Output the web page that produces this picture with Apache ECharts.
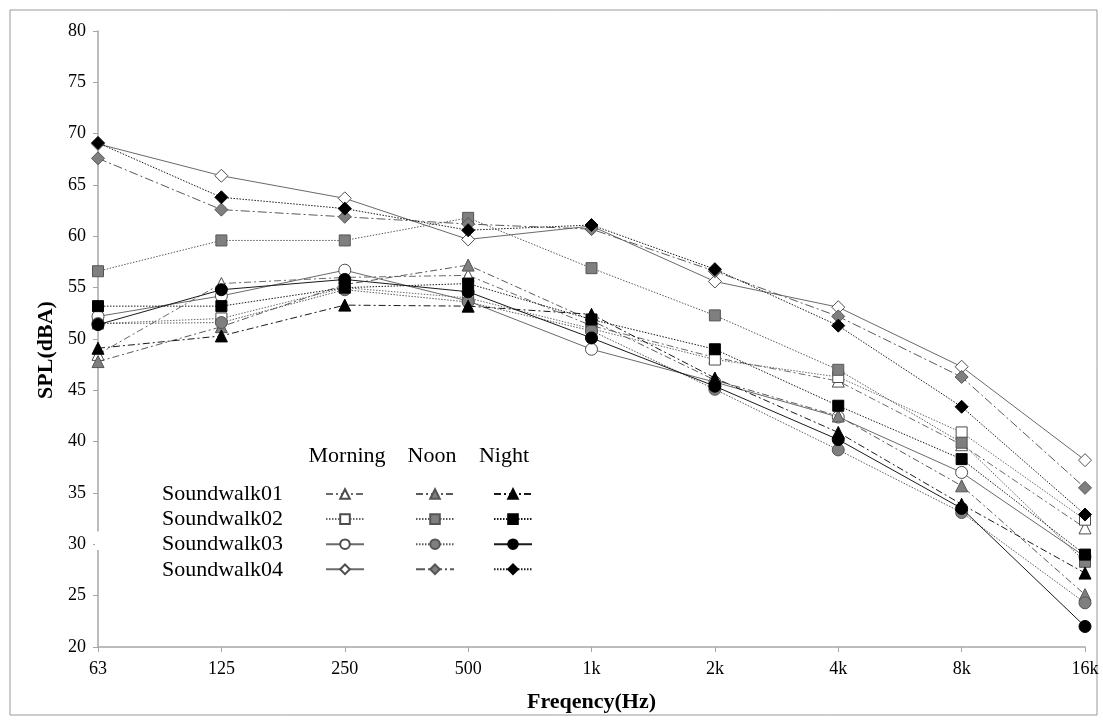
<!DOCTYPE html>
<html>
<head>
<meta charset="utf-8">
<script src="https://cdn.jsdelivr.net/npm/echarts@6/dist/echarts.min.js"></script>
<style>
html,body{margin:0;padding:0;background:#fff;}
#chart{width:1103px;height:720px;}
</style>
</head>
<body>
<div id="chart"></div>
<script>
// ---- data ----
const categories = ['63','125','250','500','1k','2k','4k','8k','16k'];
const yTicks = {min: 20, max: 80, interval: 5};
const periods = ['Morning','Noon','Night'];
const walks = ['Soundwalk01','Soundwalk02','Soundwalk03','Soundwalk04'];

const sw01Morning = [48.5, 55.4, 56.0, 56.2, 51.3, 48.2, 45.9, 39.7, 31.6];
const sw01Noon    = [47.8, 51.2, 55.3, 57.2, 51.8, 46.0, 42.5, 35.7, 25.1];
const sw01Night   = [49.1, 50.3, 53.3, 53.2, 52.4, 46.2, 40.9, 33.9, 27.2];
const sw02Morning = [51.5, 52.0, 55.0, 54.0, 51.0, 48.0, 46.3, 40.9, 32.4];
const sw02Noon    = [56.6, 59.6, 59.6, 61.8, 56.9, 52.3, 47.0, 39.9, 28.3];
const sw02Night   = [53.2, 53.2, 55.0, 55.4, 51.9, 49.0, 43.5, 38.3, 29.0];
const sw03Morning = [52.2, 54.2, 56.7, 53.7, 49.0, 45.8, 42.4, 37.0, 28.8];
const sw03Noon    = [51.5, 51.6, 54.8, 53.6, 50.8, 45.1, 39.2, 33.1, 24.3];
const sw03Night   = [51.4, 54.8, 55.8, 54.6, 50.1, 45.4, 40.2, 33.5, 22.0];
const sw04Morning = [69.0, 65.9, 63.7, 59.7, 61.0, 55.6, 53.1, 47.3, 38.2];
const sw04Noon    = [67.6, 62.6, 61.9, 61.2, 60.7, 56.6, 52.2, 46.3, 35.5];
const sw04Night   = [69.1, 63.8, 62.7, 60.6, 61.1, 56.8, 51.3, 43.4, 32.9];

// ---- styles ----
const DASHDOT = [7,3,2,3];
const LONGDASHDOT = [9,3,2,3];
const DOT = [1.5,1.5];
const SOLID = 'solid';
const fills = {Morning:'#ffffff', Noon:'#7f7f7f', Night:'#000000'};
const borders = {Morning:'#4d4d4d', Noon:'#555555', Night:'#000000'};
const lineColors = {Morning:'#6a6a6a', Noon:'#5a5a5a', Night:'#1a1a1a'};
const symbols = ['triangle','rect','circle','diamond'];
const symbolSizes = [12, 11, 12, 13];
const dashes = [
  [DASHDOT, DASHDOT, DASHDOT],
  [DOT, DOT, DOT],
  [SOLID, DOT, SOLID],
  [SOLID, LONGDASHDOT, DOT]
];
const dataTable = [
  [sw01Morning, sw01Noon, sw01Night],
  [sw02Morning, sw02Noon, sw02Night],
  [sw03Morning, sw03Noon, sw03Night],
  [sw04Morning, sw04Noon, sw04Night]
];

const series = [];
const legendData = {Morning:[], Noon:[], Night:[]};
for (let w = 0; w < 4; w++) {
  for (let p = 0; p < 3; p++) {
    const per = periods[p];
    const name = walks[w] + ' ' + per;
    legendData[per].push(name);
    series.push({
      name: name,
      type: 'line',
      data: dataTable[w][p],
      symbol: symbols[w],
      symbolSize: symbolSizes[w],
      showAllSymbol: true,
      smooth: false,
      animation: false,
      itemStyle: {color: fills[per], borderColor: borders[per], borderWidth: 1, opacity: 1},
      lineStyle: {color: lineColors[per], width: 1, type: dashes[w][p]},
      emphasis: {disabled: true},
      z: 2 + p
    });
  }
}

const serif = 'Liberation Serif, Times New Roman, serif';
const legendLefts = [325, 415, 493];
const legends = periods.map((per, i) => ({
  data: legendData[per],
  orient: 'vertical',
  left: legendLefts[i],
  top: 488,
  itemWidth: 38,
  itemHeight: 12,
  itemGap: 13.3,
  padding: 0,
  selectedMode: false,
  formatter: function(){ return ''; },
  textStyle: {fontSize: 1, padding: 0}
}));

const headerX = [347, 432, 504];
const graphics = [
  {type:'rect', shape:{x:10,y:10,width:1087,height:705}, style:{fill:'none', stroke:'#9a9a9a', lineWidth:1}, z:0, silent:true},
  {type:'rect', shape:{x:95,y:531.5,width:6,height:18.5}, style:{fill:'#ffffff'}, z:100, silent:true}
];
periods.forEach((p, i) => {
  graphics.push({type:'text', x:headerX[i], y:456, style:{text:p, font:'22px ' + serif, fill:'#000', align:'center', verticalAlign:'middle'}, z:100});
});
walks.forEach((w, i) => {
  graphics.push({type:'text', x:283, y:494 + i*25.3, style:{text:w, font:'22px ' + serif, fill:'#000', align:'right', verticalAlign:'middle'}, z:100});
});

const chart = echarts.init(document.getElementById('chart'), null, {renderer:'canvas'});
chart.setOption({
  backgroundColor: '#ffffff',
  animation: false,
  grid: {left: 98, right: 18, top: 31, bottom: 73, containLabel: false},
  xAxis: {
    type: 'category',
    data: categories,
    boundaryGap: false,
    name: 'Freqency(Hz)',
    nameLocation: 'middle',
    nameGap: 44,
    nameTextStyle: {fontFamily: serif, fontSize: 22, fontWeight: 'bold', color: '#000'},
    axisLine: {lineStyle: {color: '#a6a6a6', width: 1.5}},
    axisTick: {show: true, alignWithLabel: true, length: 5, lineStyle: {color: '#a6a6a6'}},
    axisLabel: {fontFamily: serif, fontSize: 18, color: '#000', margin: 13, interval: 0},
    splitLine: {show: false}
  },
  yAxis: {
    type: 'value',
    min: yTicks.min,
    max: yTicks.max,
    interval: yTicks.interval,
    name: 'SPL(dBA)',
    nameLocation: 'middle',
    nameGap: 40,
    nameTextStyle: {fontFamily: serif, fontSize: 22, fontWeight: 'bold', color: '#000', padding: [0, 22, 0, 0]},
    axisLine: {show: true, lineStyle: {color: '#a6a6a6', width: 1.5}},
    axisTick: {show: true, length: 5, lineStyle: {color: '#a6a6a6'}},
    axisLabel: {fontFamily: serif, fontSize: 18, color: '#000', margin: 12},
    splitLine: {show: false}
  },
  legend: legends,
  graphic: graphics,
  series: series
});
</script>
</body>
</html>
